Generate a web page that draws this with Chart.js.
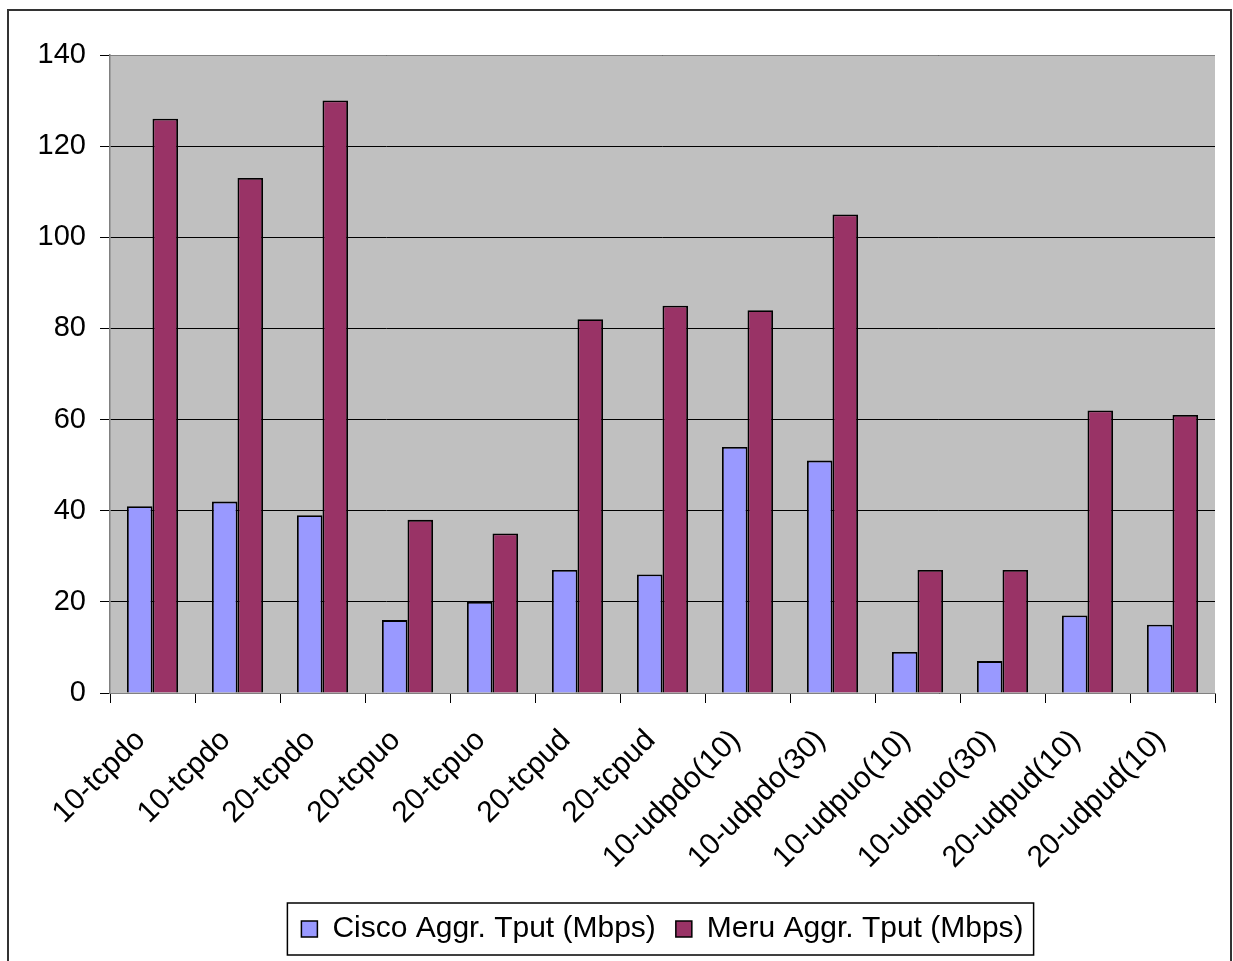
<!DOCTYPE html>
<html>
<head>
<meta charset="utf-8">
<script src="https://cdn.jsdelivr.net/npm/chart.js@4.4.1/dist/chart.umd.min.js"></script>
<style>
  html, body { margin: 0; padding: 0; background: #ffffff; }
  #wrap { position: relative; width: 1233px; height: 961px; }
</style>
</head>
<body>
<div id="wrap"><canvas id="c" width="1233" height="961"></canvas></div>
<script>
const categories = ["10-tcpdo", "10-tcpdo", "20-tcpdo", "20-tcpuo", "20-tcpuo", "20-tcpud", "20-tcpud",
  "10-udpdo(10)", "10-udpdo(30)", "10-udpuo(10)", "10-udpuo(30)", "20-udpud(10)", "20-udpud(10)"];
const ciscoValues = [41, 42, 39, 16, 20, 27, 26, 54, 51, 9, 7, 17, 15];
const meruValues = [126, 113, 130, 38, 35, 82, 85, 84, 105, 27, 27, 62, 61];
const seriesNames = ["Cisco Aggr. Tput (Mbps)", "Meru Aggr. Tput (Mbps)"];
const yTicks = [0, 20, 40, 60, 80, 100, 120, 140];

const FONT = "'Liberation Sans', Arial, sans-serif";

const decor = {
  id: 'decor',
  beforeDraw(chart) {
    const {ctx, chartArea: a} = chart;
    ctx.save();
    ctx.fillStyle = '#ffffff';
    ctx.fillRect(0, 0, chart.width, chart.height);
    ctx.fillStyle = '#C0C0C0';
    ctx.fillRect(a.left, a.top, a.right - a.left, a.bottom - a.top);
    ctx.strokeStyle = '#333333';
    ctx.lineWidth = 2;
    ctx.strokeRect(8, 10, 1223, 970);
    ctx.restore();
  },
  afterDraw(chart) {
    const {ctx, chartArea: a} = chart;
    const lg = chart.legend;
    ctx.save();
    ctx.strokeStyle = '#808080';
    ctx.lineWidth = 1;
    ctx.beginPath();
    ctx.moveTo(a.left, a.top + 0.5);
    ctx.lineTo(a.right, a.top + 0.5);
    ctx.stroke();
    if (lg && lg.legendHitBoxes && lg.legendHitBoxes.length) {
      const hb = lg.legendHitBoxes;
      const l = hb[0].left - 14;
      const r = hb[hb.length - 1].left + hb[hb.length - 1].width + 10;
      const t = 903, b = 955;
      ctx.strokeStyle = '#000000';
      ctx.lineWidth = 1.5;
      ctx.strokeRect(l, t, r - l, b - t);
    }
    ctx.restore();
  }
};

new Chart(document.getElementById('c'), {
  type: 'bar',
  data: {
    labels: categories,
    datasets: [
      { label: seriesNames[0], data: ciscoValues, backgroundColor: '#9999FF', borderColor: '#000000', borderWidth: 1.8 },
      { label: seriesNames[1], data: meruValues, backgroundColor: '#993366', borderColor: '#000000', borderWidth: 1.8 }
    ]
  },
  options: {
    responsive: false,
    animation: false,
    devicePixelRatio: 1,
    layout: { padding: { left: 20, right: 18, top: 55, bottom: 7 } },
    plugins: {
      legend: {
        position: 'bottom',
        fullSize: false,
        labels: {
          font: { family: FONT, size: 30 },
          color: '#000000',
          boxWidth: 16,
          boxHeight: 16,
          padding: 20,
          generateLabels(chart) {
            return chart.data.datasets.map((ds, i) => ({
              text: ds.label, fillStyle: ds.backgroundColor, strokeStyle: '#000000',
              lineWidth: 1.5, datasetIndex: i, hidden: false, fontColor: '#000000'
            }));
          }
        }
      },
      tooltip: { enabled: false }
    },
    datasets: { bar: { categoryPercentage: 0.6, barPercentage: 1.0 } },
    scales: {
      x: {
        offset: true,
        afterFit(scale) { scale.height = 201; },
        grid: { display: true, drawOnChartArea: false, drawTicks: true, tickLength: 10, color: '#000000', offset: true },
        border: { display: true, color: '#808080', width: 1 },
        ticks: {
          font: { family: FONT, size: 30 }, color: '#000000', maxRotation: 45, minRotation: 45,
          autoSkip: false, padding: 8,
          callback(value, index) { return categories[index] + '  '; }
        }
      },
      y: {
        min: 0, max: 140,
        afterFit(scale) { scale.width = 90; },
        afterBuildTicks(scale) { scale.ticks = yTicks.map(v => ({ value: v })); },
        grid: { color: '#000000', lineWidth: 1, tickLength: 10, drawTicks: true },
        border: { display: true, color: '#808080', width: 1.5 },
        ticks: { font: { family: FONT, size: 29 }, color: '#000000', padding: 14 }
      }
    }
  },
  plugins: [decor]
});
</script>
</body>
</html>
